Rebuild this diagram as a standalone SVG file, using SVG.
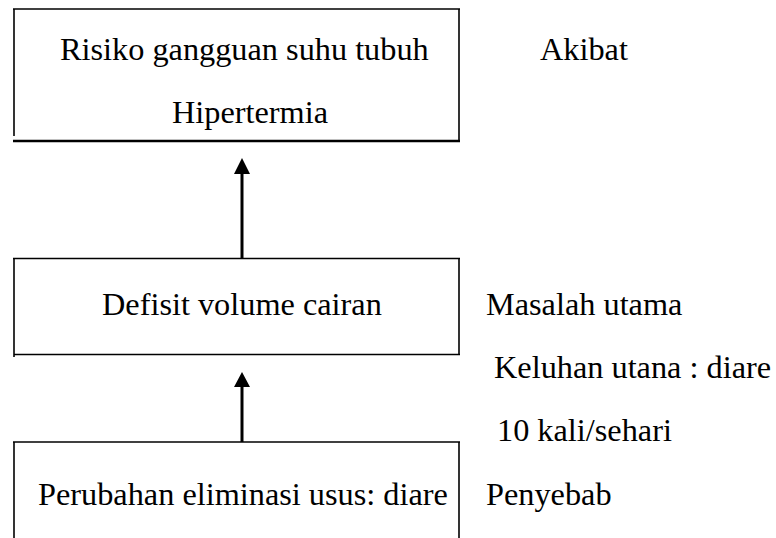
<svg xmlns="http://www.w3.org/2000/svg" width="776" height="538" viewBox="0 0 776 538">
<style>
text{font-family:"Liberation Serif","Times New Roman",serif;font-size:32.3px;fill:#000}
.e{stroke:#000;stroke-width:1.6;fill:none}
.c{stroke:#000;stroke-width:3;fill:none}
</style>
<rect width="776" height="538" fill="#fff"/>
<g id="node-akibat">
<line class="e" x1="13" y1="9" x2="460" y2="9"/>
<line class="e" x1="14" y1="9" x2="14" y2="136"/>
<line class="e" x1="459" y1="9" x2="459" y2="141"/>
<line stroke="#000" stroke-width="2.6" x1="13" y1="141" x2="460" y2="141"/>
<text x="60" y="60">Risiko gangguan suhu tubuh</text>
<text x="172" y="123">Hipertermia</text>
</g>
<g id="node-masalah">
<line class="e" x1="13" y1="258.5" x2="460" y2="258.5"/>
<line class="e" x1="14" y1="258" x2="14" y2="357"/>
<line class="e" x1="459" y1="258" x2="459" y2="355"/>
<line class="e" x1="14" y1="354.5" x2="460" y2="354.5"/>
<text x="102" y="315">Defisit volume cairan</text>
</g>
<g id="node-penyebab">
<line class="e" x1="13" y1="442" x2="460" y2="442"/>
<line class="e" x1="14" y1="442" x2="14" y2="538"/>
<line class="e" x1="459" y1="442" x2="459" y2="538"/>
<text x="38" y="505">Perubahan eliminasi usus: diare</text>
</g>
<g id="labels">
<text x="540" y="60">Akibat</text>
<text x="486" y="315">Masalah utama</text>
<text x="494" y="378">Keluhan utana : diare</text>
<text x="497" y="441">10 kali/sehari</text>
<text x="486" y="505">Penyebab</text>
</g>
<g id="connectors">
<line class="c" x1="242" y1="172" x2="242" y2="258"/>
<polygon points="242,158 234,174 250,174" fill="#000"/>
<line class="c" x1="242" y1="385" x2="242" y2="442"/>
<polygon points="242,372 234,387 250,387" fill="#000"/>
</g>
</svg>
